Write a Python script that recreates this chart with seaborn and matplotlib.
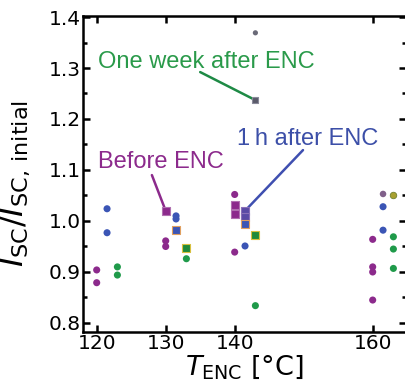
import numpy as np
import pandas as pd
import matplotlib
matplotlib.use("Agg")
import matplotlib.pyplot as plt
import seaborn as sns
from matplotlib.ticker import MultipleLocator, FixedLocator

# ---------------- data ----------------
stages = ["Before ENC", "1 h after ENC", "One week after ENC"]

# regular (circle) measurements: temperature, stage, value
before_T = [120, 120, 130, 130, 140, 140, 160, 160, 160, 160]
before_v = [0.904, 0.879, 0.961, 0.950, 1.052, 0.939, 0.964, 0.910, 0.900, 0.845]

h1_T = [120, 120, 130, 130, 140, 160, 160]
h1_v = [1.024, 0.977, 1.010, 1.004, 0.951, 1.028, 0.982]

week_T = [120, 120, 130, 140, 160, 160, 160]
week_v = [0.910, 0.894, 0.926, 0.834, 0.969, 0.945, 0.907]

# tracked samples (squares)
sq_before_T = [130, 140, 140]
sq_before_v = [1.020, 1.031, 1.013]
sq_h1_T = [140, 140]
sq_h1_v = [1.020, 1.008]
sq_h1o_T = [130, 140]
sq_h1o_v = [0.982, 0.994]
sq_weeky_T = [130, 140]
sq_weeky_v = [0.948, 0.972]
sq_weekg_T = [140]
sq_weekg_v = [1.237]

# odd single points
gray_pt_T, gray_pt_v = [140], [1.369]          # one week, gray
grayp_pt_T, grayp_pt_v = [160], [1.053]        # 1 h, grayish purple
olive_pt_T, olive_pt_v = [160], [1.050]        # one week, olive

xticks = [120, 130, 140, 160]
yticks = [0.8, 0.9, 1.0, 1.1, 1.2, 1.3, 1.4]

# ---------------- style ----------------
offset = {"Before ENC": 0.0, "1 h after ENC": 1.5, "One week after ENC": 3.0}
colors = {"Before ENC": "#8c2a8c", "1 h after ENC": "#3b55b5", "One week after ENC": "#1f9a4a"}

sns.set_style("ticks")
plt.rcParams["font.family"] = ["DejaVu Sans"]
plt.rcParams["mathtext.fontset"] = "dejavusans"
plt.rcParams["text.color"] = "black"
plt.rcParams["axes.labelcolor"] = "black"
plt.rcParams["xtick.color"] = "black"
plt.rcParams["ytick.color"] = "black"

fig = plt.figure(figsize=(4.05, 3.89), dpi=100)
ax = fig.add_axes([0.2057, 0.1478, 0.7968, 0.8098])


def frame(T, v, stage):
    return pd.DataFrame({"x": np.array(T, float) + offset[stage], "v": v, "stage": stage})


circ = pd.concat([frame(before_T, before_v, stages[0]),
                  frame(h1_T, h1_v, stages[1]),
                  frame(week_T, week_v, stages[2])], ignore_index=True)

sns.scatterplot(data=circ, x="x", y="v", hue="stage", palette=colors, s=26,
                edgecolor="none", legend=False, ax=ax, zorder=3)

def sq(T, v, stage, face, edge, s=26, marker="s", lw=0.8):
    d = frame(T, v, stage)
    sns.scatterplot(data=d, x="x", y="v", color=face, marker=marker, s=s,
                    edgecolor=edge, linewidth=lw, legend=False, ax=ax, zorder=4)

sq(sq_before_T, sq_before_v, stages[0], "#8c2a8c", "#b070b0")
sq(sq_h1_T, sq_h1_v, stages[1], "#5a4aa5", "#8a70b8")
sq(sq_h1o_T, sq_h1o_v, stages[1], "#3b55b5", "#e0a060")
sq(sq_weeky_T, sq_weeky_v, stages[2], "#1f8a3a", "#d8c040")
sq(sq_weekg_T, sq_weekg_v, stages[2], "#5a5a6a", "#8a8a9a", s=20)
sq(gray_pt_T, gray_pt_v, stages[2], "#6a6a78", "none", s=14, marker="o", lw=0)
sq(grayp_pt_T, grayp_pt_v, stages[1], "#80608a", "none", s=22, marker="o", lw=0)
sq(olive_pt_T, olive_pt_v, stages[2], "#a8a030", "#708030", s=22, marker="o", lw=0.6)

# ---------------- annotations ----------------
labels = [
    # text, text pos, line start, target, text colour, line colour
    ("One week after ENC", (120.2, 1.300), (135.0, 1.292),
     (sq_weekg_T[0] + offset[stages[2]], sq_weekg_v[0]), "#2a9a4a", "#1e8a45"),
    ("1\u2009h after ENC", (140.35, 1.149), (149.9, 1.139),
     (sq_h1_T[0] + offset[stages[1]], sq_h1_v[0]), "#3c4fa8", "#3f4fb0"),
    ("Before ENC", (120.2, 1.104), (128.0, 1.090),
     (sq_before_T[0] + offset[stages[0]], sq_before_v[0]), "#8c2a8c", "#8c2a8c"),
]
for txt, tpos, lstart, target, tc, lc in labels:
    ax.text(*tpos, txt, ha="left", va="baseline", fontsize=17,
            family=["Liberation Sans", "DejaVu Sans"], color=tc, zorder=2)
    ax.annotate("", xy=target, xytext=lstart,
                arrowprops=dict(arrowstyle="-", color=lc, lw=1.8,
                                shrinkA=0, shrinkB=0), zorder=2)

# ---------------- axes ----------------
ax.set_xlim(118.06, 164.83)
ax.set_ylim(0.7833, 1.401)
ax.xaxis.set_major_locator(FixedLocator(xticks))
ax.yaxis.set_major_locator(FixedLocator(yticks))
ax.yaxis.set_minor_locator(MultipleLocator(0.05))
ax.set_xticklabels([str(t) for t in xticks])
ax.set_yticklabels([f"{t:.1f}" for t in yticks])
ax.tick_params(which="both", direction="in", top=True, right=True, labelsize=14.5,
               width=1.8, color="black", labelcolor="black", pad=2)
ax.tick_params(which="major", length=5)
ax.tick_params(which="minor", length=3)
for s in ax.spines.values():
    s.set_linewidth(1.8)
    s.set_color("black")

ax.set_xlabel(r"$T_{\mathrm{ENC}}$ [°C]", fontsize=19.5, labelpad=0)
ax.set_ylabel(r"$I_{\mathrm{SC}}/I_{\mathrm{SC,\,initial}}$", fontsize=23)
ax.yaxis.set_label_coords(-0.158, 0.47)

fig.savefig("out.png", dpi=100)
